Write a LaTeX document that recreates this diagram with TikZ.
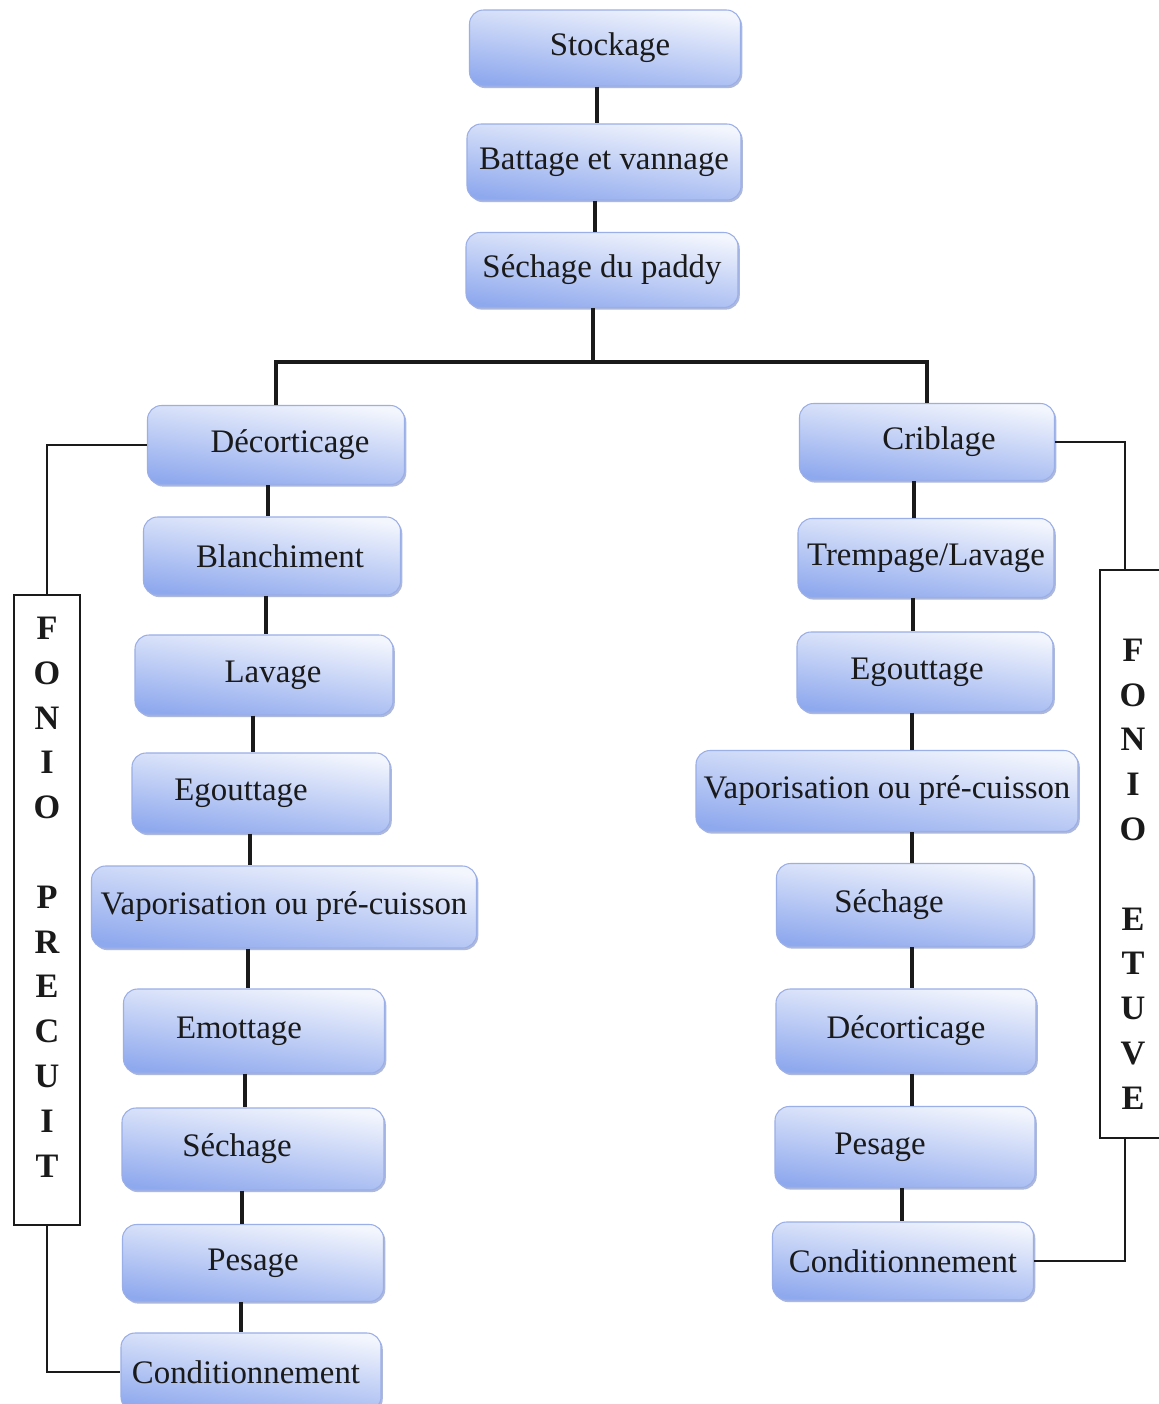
\documentclass[tikz,border=0pt]{standalone}
\usepackage{fontspec}
\setmainfont{Liberation Serif}
\usetikzlibrary{calc,shadows}
\definecolor{ink}{HTML}{1A1A1A}
\definecolor{boxblue}{HTML}{8FA9EE}
\definecolor{edge}{HTML}{9AAEE8}
\definecolor{dusk}{HTML}{6C7FBE}
\tikzset{
  every picture/.style={line width=0.8pt, color=ink},
  stage/.style={draw=edge, line width=0.6pt, rounded corners=8pt, top color=white!90!boxblue, middle color=white, bottom color=boxblue, shading angle=-8, align=center, inner sep=2pt, font=\fontsize{18.7}{22}\selectfont, drop shadow={shadow xshift=1pt, shadow yshift=-1.2pt, opacity=0.55, fill=dusk}},
  boxsize/.style 2 args={minimum width=#1*0.02cm, minimum height=#2*0.02cm},
  sidebox/.style={draw=ink, line width=1.1pt, fill=white, align=center, inner sep=0pt, font=\bfseries\fontsize{19.5}{25.5}\selectfont},
  link/.style={line width=2pt},
  sidelink/.style={line width=0.9pt},
}
\newcommand{\pad}[1]{\rule{#1}{0pt}}
\begin{document}
\begin{tikzpicture}[x=0.02cm, y=-0.02cm]
\useasboundingbox (0,0) rectangle (1159,1404);
\fill[white] (0,0) rectangle (1159,1404);
% common trunk
\node[stage, boxsize={271}{76}] (stock) at (605,48) {\pad{0.2cm}Stockage};
\node[stage, boxsize={274}{76}] (batt) at (604,162) {Battage et vannage};
\node[stage, boxsize={272}{75}] (sech) at (602,270) {Séchage du paddy};
% fonio precuit
\node[stage, boxsize={257}{79}] (ldec) at (276,445) {\pad{0.56cm}Décorticage};
\node[stage, boxsize={257}{78}] (lbla) at (272,556) {\pad{0.32cm}Blanchiment};
\node[stage, boxsize={258}{80}] (llav) at (264,675) {\pad{0.36cm}Lavage};
\node[stage, boxsize={258}{80}] (legou) at (261,793) {Egouttage\pad{0.8cm}};
\node[stage, boxsize={385}{82}] (lvap) at (284,907) {Vaporisation ou pré-cuisson};
\node[stage, boxsize={261}{84}] (lemot) at (254,1031) {Emottage\pad{0.6cm}};
\node[stage, boxsize={262}{82}] (lsech) at (253,1149) {Séchage\pad{0.64cm}};
\node[stage, boxsize={261}{77}] (lpes) at (253,1263) {Pesage};
\node[stage, boxsize={260}{78}] (lcond) at (251,1372) {Conditionnement\pad{0.2cm}};
% fonio etuve
\node[stage, boxsize={255}{77}] (rcrib) at (927,442) {\pad{0.48cm}Criblage};
\node[stage, boxsize={256}{79}] (rtrem) at (926,558) {Trempage/Lavage};
\node[stage, boxsize={256}{80}] (regou) at (925,672) {Egouttage\pad{0.32cm}};
\node[stage, boxsize={382}{81}] (rvap) at (887,791) {Vaporisation ou pré-cuisson};
\node[stage, boxsize={257}{83}] (rsech) at (905,905) {Séchage\pad{0.64cm}};
\node[stage, boxsize={260}{84}] (rdec) at (906,1031) {Décorticage};
\node[stage, boxsize={260}{81}] (rpes) at (905,1147) {Pesage\pad{1cm}};
\node[stage, boxsize={261}{78}] (rcond) at (903,1261) {Conditionnement};
% side labels
\node[sidebox, boxsize={66}{630}, text depth=14.7pt] (lside) at (47,910) {F\\O\\N\\I\\O\\\mbox{}\\P\\R\\E\\C\\U\\I\\T};
\node[sidebox, boxsize={66}{568}, text height=290.6pt] (rside) at (1133,854) {F\\O\\N\\I\\O\\\mbox{}\\E\\T\\U\\V\\E};
% links
\coordinate (split) at (593,362);
\foreach \a/\b/\x in {stock/batt/597, batt/sech/595,
    ldec/lbla/268, lbla/llav/266, llav/legou/253, legou/lvap/250,
    lvap/lemot/248, lemot/lsech/245, lsech/lpes/242, lpes/lcond/241,
    rcrib/rtrem/914, rtrem/regou/913, regou/rvap/912, rvap/rsech/912,
    rsech/rdec/912, rdec/rpes/912, rpes/rcond/902}
  \draw[link] (\a.south -| \x,0) -- (\b.north -| \x,0);
\draw[link] (sech.south -| split) -- (split);
\draw[link] (ldec.north) |- (split) -| (rcrib.north);
\draw[sidelink] (lside.north) |- (ldec.west);
\draw[sidelink] (lside.south) |- (lcond.west);
\coordinate (rtop) at ($(rside.north west)+(26,0)$);
\coordinate (rbot) at ($(rside.south west)+(26,0)$);
\draw[sidelink] (rtop) |- (rcrib.east);
\draw[sidelink] (rbot) |- (rcond.east);
\end{tikzpicture}
\end{document}
